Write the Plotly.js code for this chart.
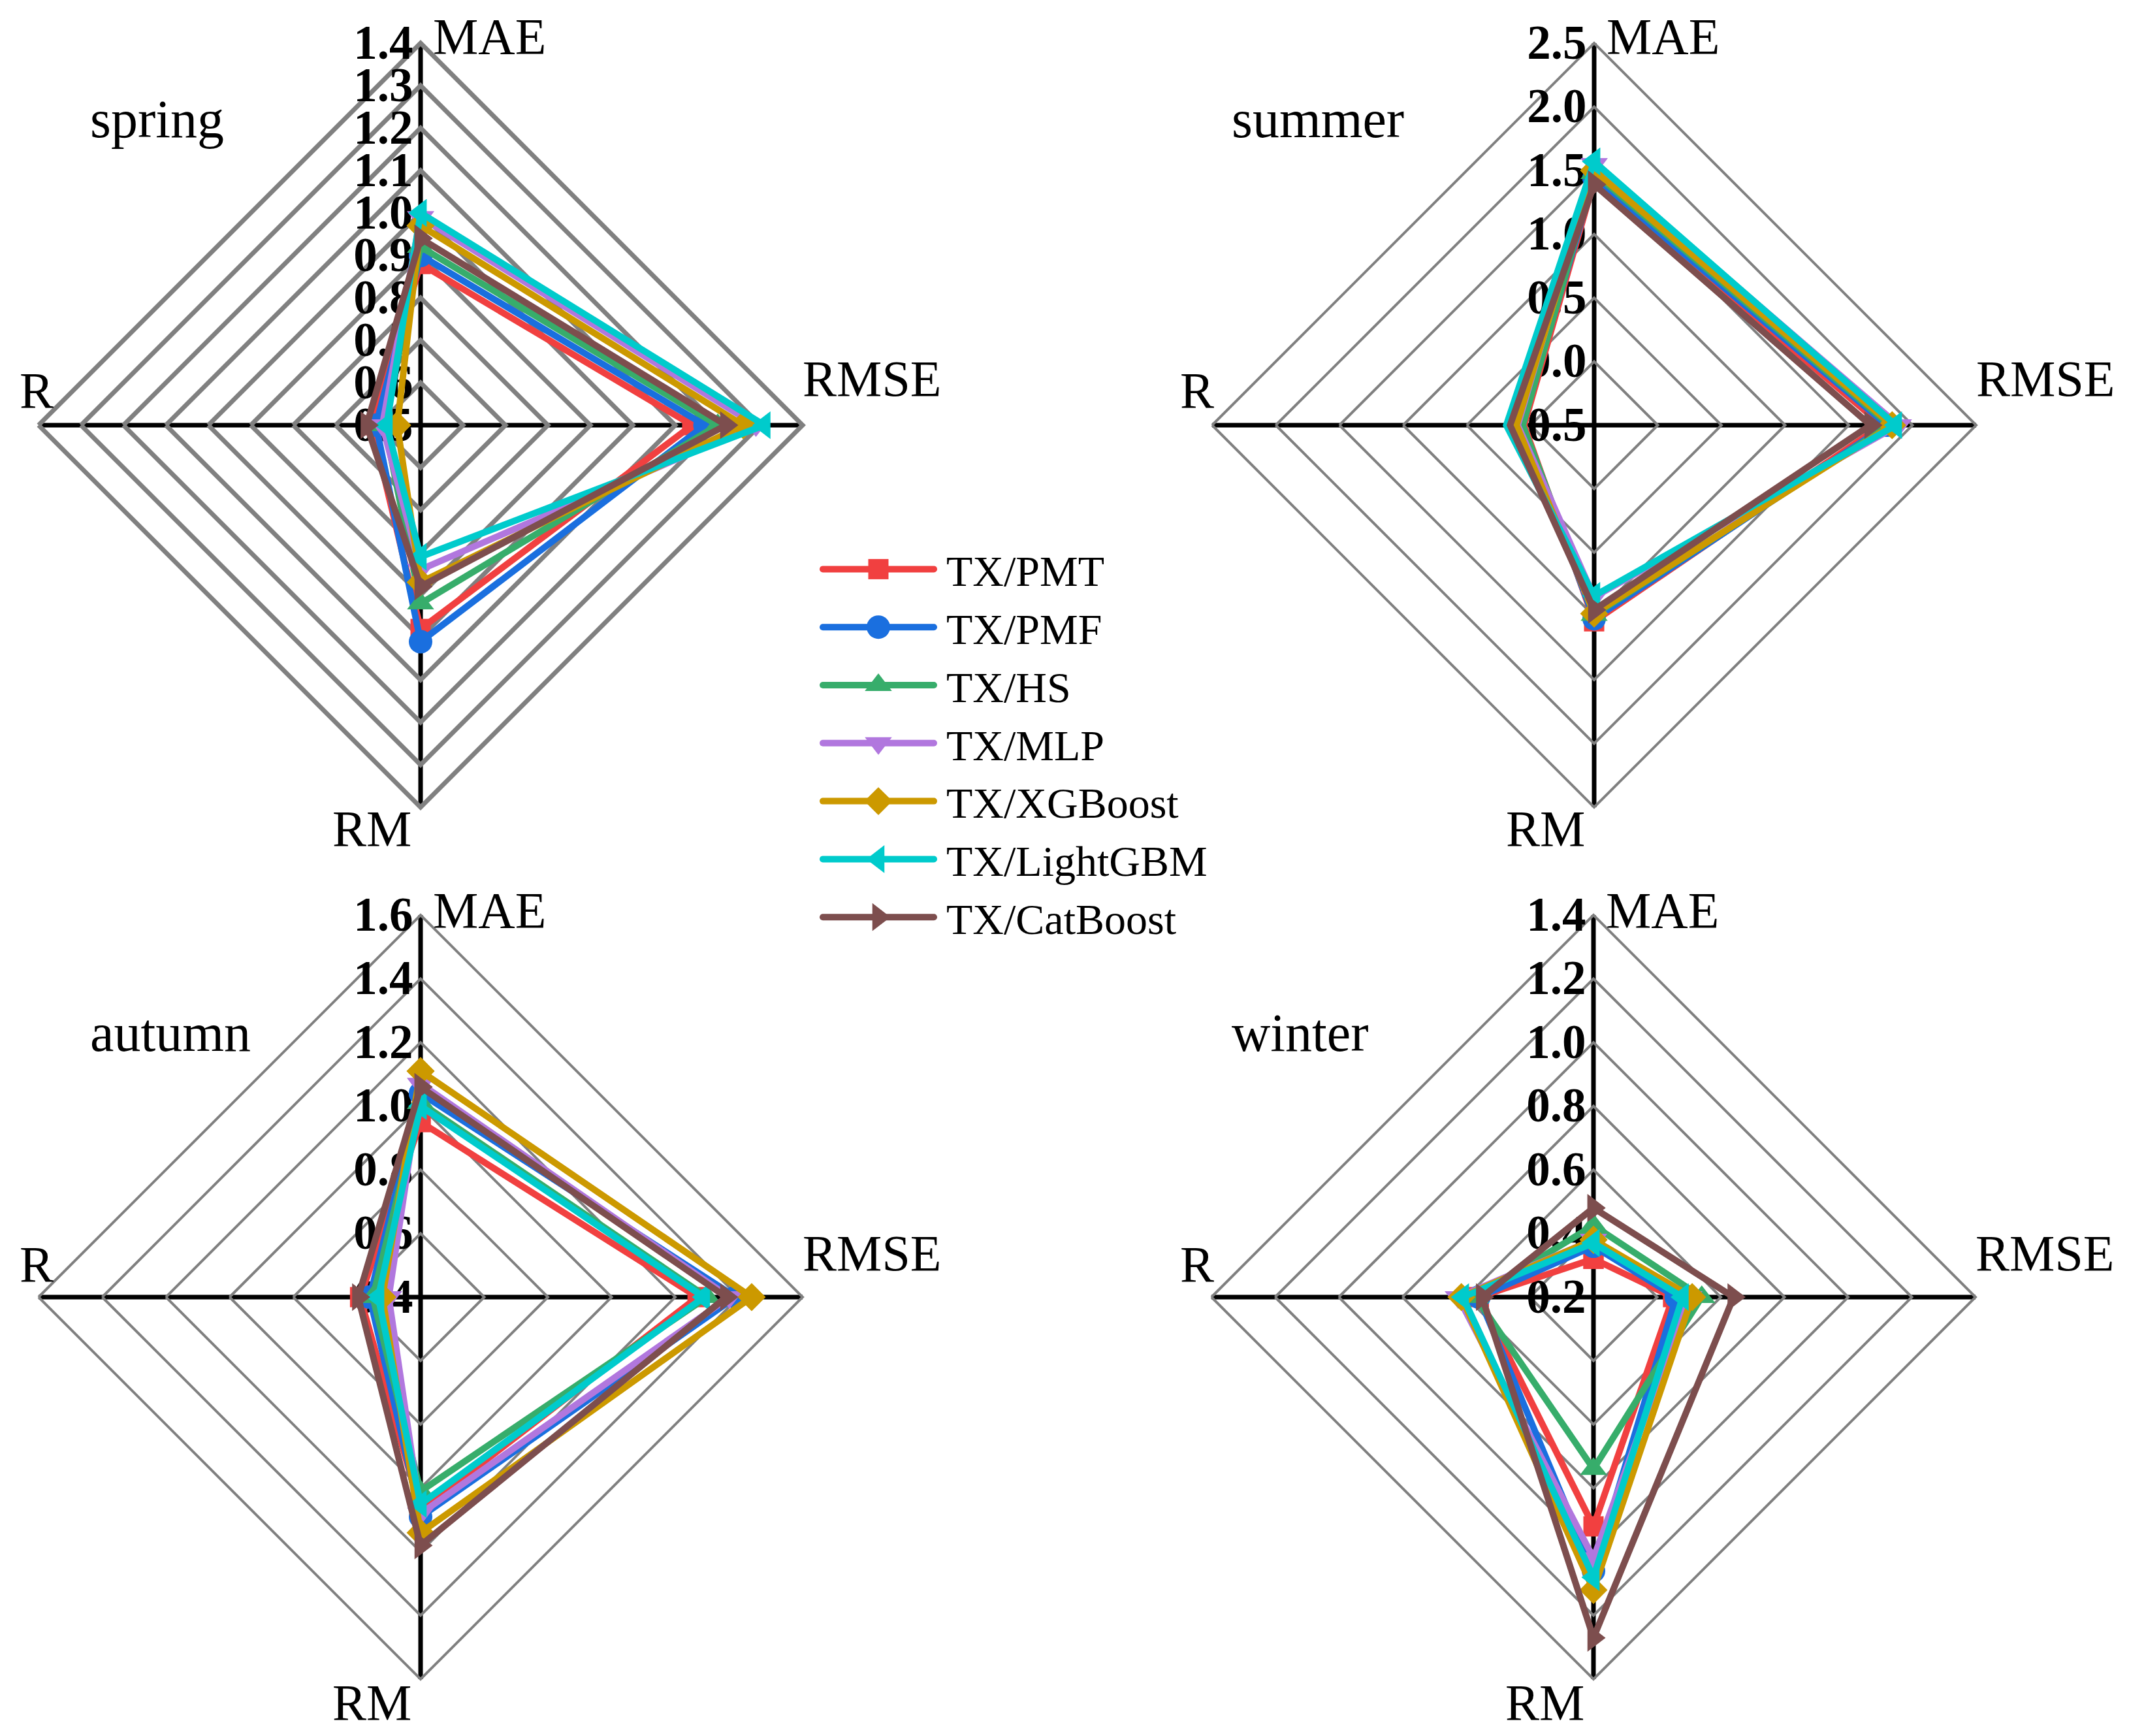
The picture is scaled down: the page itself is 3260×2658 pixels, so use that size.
<!DOCTYPE html>
<html><head><meta charset="utf-8">
<script src="https://cdn.plot.ly/plotly-3.0.1.min.js"></script>
<style>html,body{margin:0;padding:0;background:#fff}</style>
</head><body>
<div id="chart" style="width:3260px;height:2658px"></div>
<script>
// ---------- data ----------
const metrics = ['MAE', 'RMSE', 'RM', 'R'];
const models = ['TX/PMT', 'TX/PMF', 'TX/HS', 'TX/MLP', 'TX/XGBoost', 'TX/LightGBM', 'TX/CatBoost'];

// spring
const springMAE  = [0.88, 0.90, 0.92, 0.99, 0.97, 1.00, 0.94];
const springRMSE = [1.14, 1.17, 1.20, 1.29, 1.26, 1.31, 1.22];
const springRM   = [0.98, 1.01, 0.92, 0.84, 0.87, 0.81, 0.88];
const springR    = [0.615, 0.605, 0.585, 0.59, 0.555, 0.58, 0.627];
// summer
const summerMAE  = [1.42, 1.44, 1.48, 1.55, 1.50, 1.57, 1.39];
const summerRMSE = [1.76, 1.80, 1.82, 1.89, 1.84, 1.87, 1.67];
const summerRM   = [1.04, 1.02, 0.99, 0.85, 0.98, 0.84, 0.95];
const summerR    = [0.05, 0.07, 0.06, 0.10, 0.11, 0.19, 0.16];
// autumn
const autumnMAE  = [0.95, 1.04, 1.01, 1.07, 1.11, 1.00, 1.06];
const autumnRMSE = [1.27, 1.39, 1.30, 1.37, 1.44, 1.29, 1.36];
const autumnRM   = [1.07, 1.09, 1.01, 1.08, 1.14, 1.05, 1.18];
const autumnR    = [0.59, 0.56, 0.55, 0.50, 0.52, 0.533, 0.596];
// winter
const winterMAE  = [0.32, 0.36, 0.425, 0.38, 0.38, 0.37, 0.48];
const winterRMSE = [0.45, 0.46, 0.54, 0.50, 0.51, 0.48, 0.64];
const winterRM   = [0.92, 1.06, 0.74, 1.02, 1.12, 1.08, 1.27];
const winterR    = [0.56, 0.56, 0.57, 0.625, 0.615, 0.61, 0.55];

// radial tick labels
const springTicks = [0.5, 0.6, 0.7, 0.8, 0.9, 1.0, 1.1, 1.2, 1.3, 1.4];
const springTickText = ['0.5', '0.6', '0.7', '0.8', '0.9', '1.0', '1.1', '1.2', '1.3', '1.4'];
const summerTicks = [-0.5, 0.0, 0.5, 1.0, 1.5, 2.0, 2.5];
const summerTickText = ['-0.5', '0.0', '0.5', '1.0', '1.5', '2.0', '2.5'];
const autumnTicks = [0.4, 0.6, 0.8, 1.0, 1.2, 1.4, 1.6];
const autumnTickText = ['0.4', '0.6', '0.8', '1.0', '1.2', '1.4', '1.6'];
const winterTicks = [0.2, 0.4, 0.6, 0.8, 1.0, 1.2, 1.4];
const winterTickText = ['0.2', '0.4', '0.6', '0.8', '1.0', '1.2', '1.4'];

// ---------- styles ----------
const colors = ['#F14040', '#1A6FDF', '#37AD6B', '#B177DE', '#CC9900', '#00CBCC', '#7D4E4E'];
const symbols = ['square', 'circle', 'triangle-up', 'triangle-down', 'diamond', 'triangle-left', 'triangle-right'];
const msizes = [31, 36, 36, 36, 33, 37, 37];
// ratio of a symbol's largest bbox side to its marker size (Plotly symbol geometry)
const symFactor = [1, 1, 1.1547, 1.1547, 1.3, 1.1547, 1.1547];
const serif = 'Liberation Serif, Times New Roman, serif';
const W = 3260, H = 2658;
const px = v => v / W;
const py = v => 1 - v / H;

const seasons = [
  {key: 'polar',  mae: springMAE, rmse: springRMSE, rm: springRM, r: springR, ticks: springTicks, text: springTickText, cx: 644,  cy: 651,  gw: 7},
  {key: 'polar2', mae: summerMAE, rmse: summerRMSE, rm: summerRM, r: summerR, ticks: summerTicks, text: summerTickText, cx: 2441, cy: 651,  gw: 4},
  {key: 'polar3', mae: autumnMAE, rmse: autumnRMSE, rm: autumnRM, r: autumnR, ticks: autumnTicks, text: autumnTickText, cx: 644,  cy: 1986, gw: 4},
  {key: 'polar4', mae: winterMAE, rmse: winterRMSE, rm: winterRM, r: winterR, ticks: winterTicks, text: winterTickText, cx: 2440, cy: 1986, gw: 4}
];
const R0 = 585;

const traces = [];
const layout = {
  width: W, height: H,
  margin: {l: 0, r: 0, t: 0, b: 0},
  paper_bgcolor: '#fff',
  font: {family: serif, color: '#000'},
  showlegend: true,
  legend: {
    x: px(1255), y: py(822), xanchor: 'left', yanchor: 'top',
    font: {family: serif, size: 66, color: '#000'},
    bgcolor: 'rgba(0,0,0,0)', itemwidth: 170, tracegroupgap: 0
  },
  annotations: []
};

seasons.forEach((s, si) => {
  models.forEach((m, i) => {
    const vals = [s.mae[i], s.rmse[i], s.rm[i], s.r[i]];
    traces.push({
      type: 'scatterpolar',
      subplot: s.key,
      r: vals.concat([vals[0]]),
      theta: metrics.concat([metrics[0]]),
      mode: 'lines+markers',
      name: m,
      legendgroup: m,
      showlegend: si === 0,
      line: {color: colors[i], width: 10},
      marker: {color: colors[i], symbol: symbols[i], size: msizes[i], line: {width: 0}},
      cliponaxis: false,
      hoverinfo: 'skip'
    });
  });
  layout[s.key] = {
    domain: {x: [px(s.cx - R0), px(s.cx + R0)], y: [py(s.cy + R0), py(s.cy - R0)]},
    gridshape: 'linear',
    bgcolor: 'rgba(0,0,0,0)',
    radialaxis: {
      range: [s.ticks[0], s.ticks[s.ticks.length - 1]],
      tickmode: 'array', tickvals: s.ticks, ticktext: s.text,
      angle: 90, side: 'counterclockwise', tickangle: 90,
      showline: false, ticks: '',
      gridcolor: '#808080', gridwidth: s.gw,
      tickfont: {family: serif, size: 73, color: '#000', weight: 'bold'},
      layer: 'below traces'
    },
    angularaxis: {
      type: 'category', categoryarray: metrics,
      rotation: 90, direction: 'clockwise',
      showticklabels: false, ticks: '',
      showline: true, linecolor: '#808080', linewidth: s.gw,
      gridcolor: '#000', gridwidth: 7,
      layer: 'below traces'
    }
  };
});

// labels
const labelFont = {family: serif, size: 78, color: '#000'};
const seasonFont = {family: serif, size: 82, color: '#000'};
function ann(text, x, y, xa, font) {
  layout.annotations.push({text: text, x: px(x), y: py(y), xref: 'paper', yref: 'paper',
    xanchor: xa, yanchor: 'middle', showarrow: false, font: font || labelFont});
}
const seasonNames = ['spring', 'summer', 'autumn', 'winter'];
const seasonPos = [[136, 183], [1884, 183], [136, 1581], [1884, 1581]];
seasonNames.forEach((n, i) => ann(n, seasonPos[i][0], seasonPos[i][1], 'left', seasonFont));
[[644, 0], [2441, 0], [644, 1], [2440, 1]].forEach(([cx, row], i) => {
  const dy = row === 0 ? 0 : 1338;
  ann('MAE', cx + 17, 55 + dy, 'left');
  ann('RMSE', cx + 583, 580 + dy, 'left');
  ann('R', i % 2 === 0 ? 56 : 1833, 597 + dy, 'center');
  ann('RM', cx - 12, 1268 + dy, 'right');
});

Plotly.newPlot('chart', traces, layout, {displayModeBar: false, staticPlot: true}).then(gd => {
  // Plotly caps legend symbol size and line width; restore the plotted sizes
  gd.querySelectorAll('.legend [clip-path]').forEach(e => e.removeAttribute('clip-path'));
  gd.querySelectorAll('.legend .traces').forEach((t, i) => {
    const j = i % msizes.length;
    t.querySelectorAll('path.scatterpts').forEach(p => {
      const bb = p.getBBox();
      const cur = Math.max(bb.width, bb.height);
      if (!cur) return;
      const k = msizes[j] * symFactor[j] / cur;
      const tr = p.getAttribute('transform') || '';
      p.setAttribute('transform', tr + ' scale(' + k + ')');
    });
    t.querySelectorAll('path.js-line').forEach(l => {
      l.style.strokeWidth = '10px';
      l.style.strokeLinecap = 'round';
    });
    const txt = t.querySelector('text.legendtext');
    if (txt) txt.setAttribute('x', (parseFloat(txt.getAttribute('x')) || 0) + 14);
  });
});
</script>
</body></html>
